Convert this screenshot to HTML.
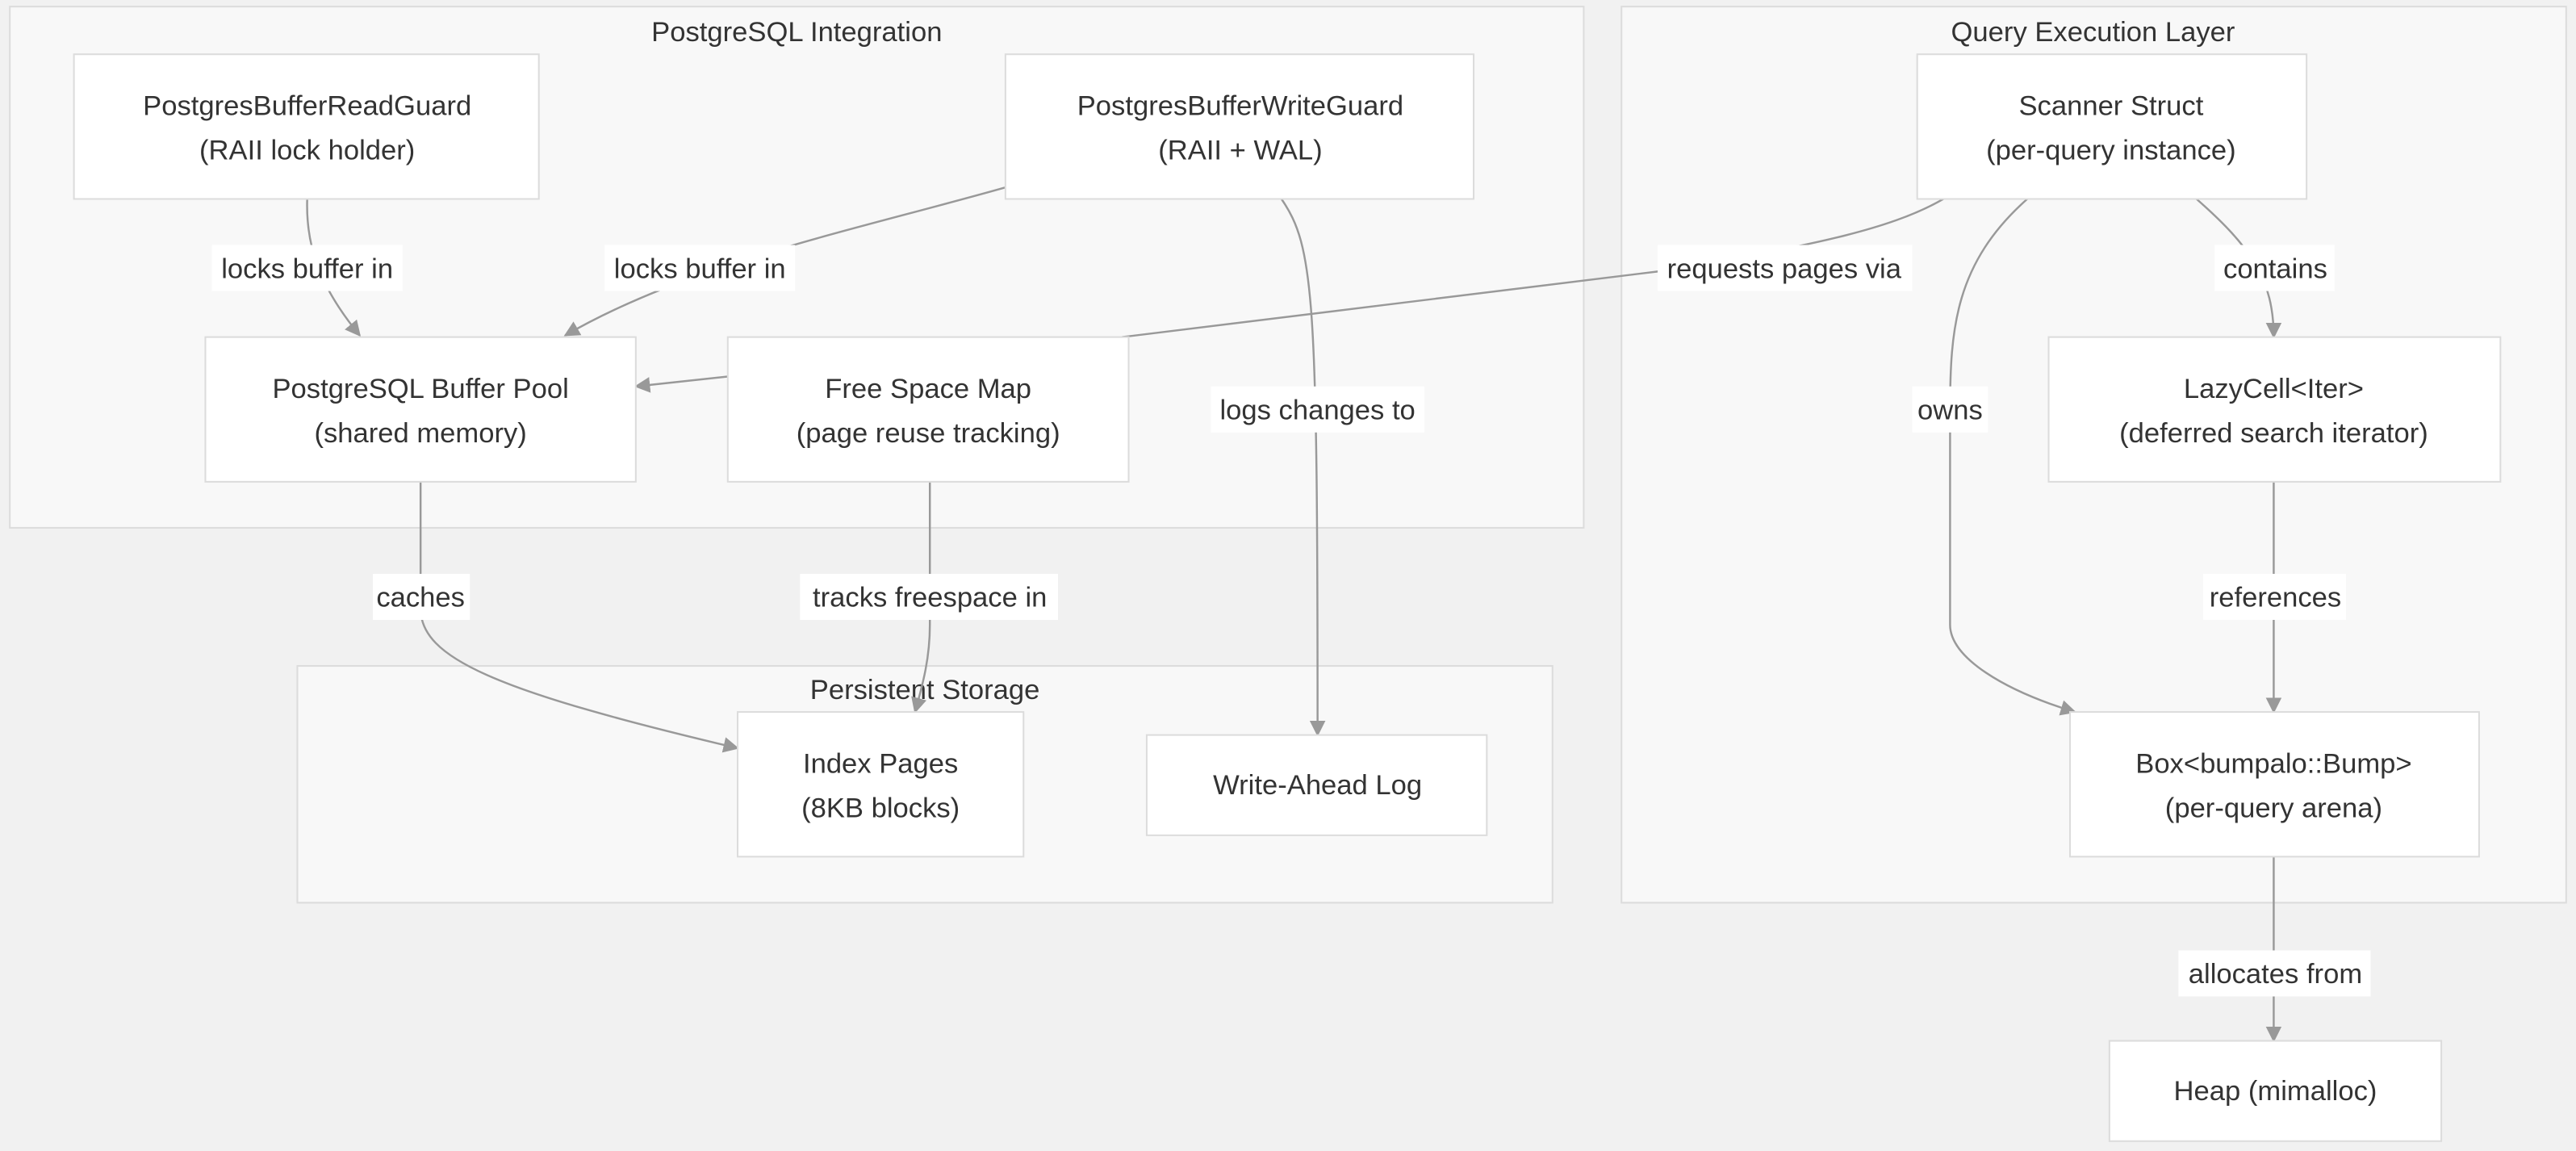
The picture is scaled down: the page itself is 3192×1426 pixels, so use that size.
<!DOCTYPE html>
<html><head><meta charset="utf-8"><style>
html,body{margin:0;padding:0;background:#f1f1f1;}
svg{display:block;}
text{font-family:"Liberation Sans",sans-serif;fill:#333;font-size:17px;text-anchor:middle;}
.c{fill:#f8f8f8;stroke:#dcdcdc;stroke-width:1;}
.n{fill:#fff;stroke:#dcdcdc;stroke-width:1;}
.e{fill:none;stroke:#999;stroke-width:1.2;}
.lb{fill:#fff;}
</style></head><body>
<svg width="3192" height="1426" viewBox="0 0 1568 700" preserveAspectRatio="none">
<defs><marker id="a" viewBox="0 0 10 10" refX="9" refY="5" markerWidth="8" markerHeight="8" orient="auto"><path d="M0,0L10,5L0,10z" fill="#999"/></marker></defs>
<rect x="0" y="0" width="1568" height="700" fill="#f1f1f1"/>
<rect class="c" x="6" y="4" width="958" height="317"/>
<text x="485" y="25">PostgreSQL Integration</text>
<rect class="c" x="987" y="4" width="575" height="545"/>
<text x="1274" y="25">Query Execution Layer</text>
<rect class="c" x="181" y="405" width="764" height="144"/>
<text x="563" y="425">Persistent Storage</text>

<path class="e" d="M187,121 C186,150 195,175 219,204" marker-end="url(#a)"/>
<path class="e" d="M612,114 C520,140 420,160 344,204" marker-end="url(#a)"/>
<path class="e" d="M780,121 C800,150 802,180 802,447" marker-end="url(#a)"/>
<path class="e" d="M1183,121 C1150,140 1100,150 1010,165 L683,205"/>
<path class="e" d="M443,229 L387,235" marker-end="url(#a)"/>
<path class="e" d="M1234,121 C1190,160 1187,200 1187,250 L1187,380 C1187,400 1220,420 1263,433" marker-end="url(#a)"/>
<path class="e" d="M1337,121 C1370,150 1384,170 1384,205" marker-end="url(#a)"/>
<path class="e" d="M256,293 L256,370 C256,400 300,420 449,455" marker-end="url(#a)"/>
<path class="e" d="M566,293 L566,380 C566,400 562,415 557,433" marker-end="url(#a)"/>
<path class="e" d="M1384,293 L1384,433" marker-end="url(#a)"/>
<path class="e" d="M1384,521 L1384,633" marker-end="url(#a)"/>

<rect class="lb" x="129" y="149" width="116" height="28"/><text x="187" y="169">locks buffer in</text>
<rect class="lb" x="368" y="149" width="116" height="28"/><text x="426" y="169">locks buffer in</text>
<rect class="lb" x="1009" y="149" width="155" height="28"/><text x="1086" y="169">requests pages via</text>
<rect class="lb" x="1348" y="149" width="73" height="28"/><text x="1385" y="169">contains</text>
<rect class="lb" x="737" y="235" width="130" height="28"/><text x="802" y="255">logs changes to</text>
<rect class="lb" x="1164" y="235" width="46" height="28"/><text x="1187" y="255">owns</text>
<rect class="lb" x="227" y="349" width="59" height="28"/><text x="256" y="369">caches</text>
<rect class="lb" x="487" y="349" width="157" height="28"/><text x="566" y="369">tracks freespace in</text>
<rect class="lb" x="1341" y="349" width="87" height="28"/><text x="1385" y="369">references</text>
<rect class="lb" x="1326" y="578" width="117" height="28"/><text x="1385" y="598">allocates from</text>

<rect class="n" x="45" y="33" width="283" height="88"/><text x="187" y="70">PostgresBufferReadGuard</text><text x="187" y="97">(RAII lock holder)</text>
<rect class="n" x="612" y="33" width="285" height="88"/><text x="755" y="70">PostgresBufferWriteGuard</text><text x="755" y="97">(RAII + WAL)</text>
<rect class="n" x="125" y="205" width="262" height="88"/><text x="256" y="242">PostgreSQL Buffer Pool</text><text x="256" y="269">(shared memory)</text>
<rect class="n" x="443" y="205" width="244" height="88"/><text x="565" y="242">Free Space Map</text><text x="565" y="269">(page reuse tracking)</text>
<rect class="n" x="1167" y="33" width="237" height="88"/><text x="1285" y="70">Scanner Struct</text><text x="1285" y="97">(per-query instance)</text>
<rect class="n" x="1247" y="205" width="275" height="88"/><text x="1384" y="242">LazyCell&lt;Iter&gt;</text><text x="1384" y="269">(deferred search iterator)</text>
<rect class="n" x="449" y="433" width="174" height="88"/><text x="536" y="470">Index Pages</text><text x="536" y="497">(8KB blocks)</text>
<rect class="n" x="698" y="447" width="207" height="61"/><text x="802" y="483">Write-Ahead Log</text>
<rect class="n" x="1260" y="433" width="249" height="88"/><text x="1384" y="470">Box&lt;bumpalo::Bump&gt;</text><text x="1384" y="497">(per-query arena)</text>
<rect class="n" x="1284" y="633" width="202" height="61"/><text x="1385" y="669">Heap (mimalloc)</text>
</svg>
</body></html>
